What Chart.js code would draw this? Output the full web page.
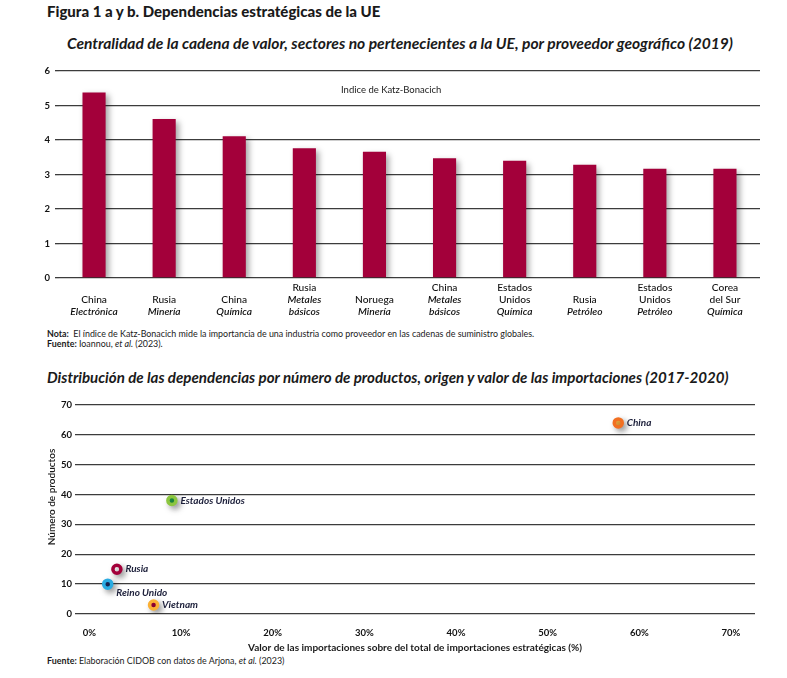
<!DOCTYPE html>
<html lang="es">
<head>
<meta charset="utf-8">
<script src="https://cdn.jsdelivr.net/npm/chart.js@4.4.1/dist/chart.umd.min.js"></script>
<style>
  html, body { margin: 0; padding: 0; background: #fff; }
  body { width: 787px; height: 678px; position: relative; overflow: hidden;
         font-family: Lato, "Open Sans", sans-serif; color: #1a1a1a; }
  .t { position: absolute; white-space: nowrap; line-height: 1; }
  #title { left: 47px; top: 4px; font-size: 15px; font-weight: 900; }
  .sub { font-weight: 700; font-style: italic; }
  #sub1 { left: 67px; top: 36px; font-size: 15.6px; }
  #sub2 { left: 47px; top: 370px; font-size: 15.1px; }
  .note { font-size: 8.9px; left: 47px; }
  #nota { top: 330px; }
  #fuente1 { top: 340px; }
  #fuente2 { top: 657px; }
  #katz { left: 341px; top: 85px; font-size: 9.5px; }
  .box { position: absolute; left: 0; }
  #box1 { top: 60px; }
  #box2 { top: 395px; }
</style>
</head>
<body>
<div class="t" id="title">Figura 1 a y b. Dependencias estratégicas de la UE</div>
<div class="t sub" id="sub1">Centralidad de la cadena de valor, sectores no pertenecientes a la UE, por proveedor geográfico (2019)</div>
<div class="t note" id="nota"><b>Nota:</b>&nbsp; El índice de Katz-Bonacich mide la importancia de una industria como proveedor en las cadenas de suministro globales.</div>
<div class="t note" id="fuente1"><b>Fuente:</b> Ioannou, <i>et al.</i> (2023).</div>
<div class="t sub" id="sub2">Distribución de las dependencias por número de productos, origen y valor de las importaciones (2017-2020)</div>
<div class="t note" id="fuente2"><b>Fuente:</b> Elaboración CIDOB con datos de Arjona, <i>et al.</i> (2023)</div>

<div class="box" id="box1"><canvas id="bars" width="787" height="265"></canvas></div>
<div class="t" id="katz">Indice de Katz-Bonacich</div>
<div class="box" id="box2"><canvas id="scatter" width="787" height="265"></canvas></div>

<script>
// Figura 1a: Katz-Bonacich index by supplier / sector
const countries = [["China"], ["Rusia"], ["China"], ["Rusia"], ["Noruega"], ["China"],
  ["Estados", "Unidos"], ["Rusia"], ["Estados", "Unidos"], ["Corea", "del Sur"]];
const sectors = [["Electrónica"], ["Minería"], ["Química"], ["Metales", "básicos"], ["Minería"],
  ["Metales", "básicos"], ["Química"], ["Petróleo"], ["Petróleo"], ["Química"]];
const katzValues = [5.38, 4.61, 4.11, 3.76, 3.66, 3.47, 3.40, 3.28, 3.17, 3.17];
const katzTicks = [0, 1, 2, 3, 4, 5, 6];

// Figura 1b: dependencies by origin
const origins = ["China", "Estados Unidos", "Rusia", "Reino Unido", "Vietnam"];
const importShare = [57.7, 9.0, 3.0, 2.0, 7.0];   // % of strategic imports
const productCount = [64, 38, 15, 10, 3];
const shareTicks = [0, 10, 20, 30, 40, 50, 60, 70];
const countTicks = [0, 10, 20, 30, 40, 50, 60, 70];

const FONT = 'Lato, "Open Sans", sans-serif';
const CRIMSON = "#a3003a";
const GRID = "#3c3c3c";
Chart.defaults.font.family = FONT;
Chart.defaults.color = "#1a1a1a";

// soft drop shadow under bars and points
const shadow = {
  id: "shadow",
  beforeDatasetsDraw(chart) {
    const ctx = chart.ctx;
    ctx.save();
    ctx.shadowColor = "rgba(0,0,0,0.35)";
    ctx.shadowBlur = 6;
    ctx.shadowOffsetX = 3;
    ctx.shadowOffsetY = 3;
  },
  afterDatasetsDraw(chart) {
    chart.ctx.restore();
  }
};

// two-part category labels: country (regular) over sector (italic), bottom aligned
const catLabels = {
  id: "catLabels",
  afterDraw(chart) {
    const ctx = chart.ctx;
    const x = chart.scales.x;
    const base = chart.chartArea.bottom + 34;
    const lh = 12.3;
    ctx.save();
    ctx.textAlign = "center";
    ctx.textBaseline = "middle";
    ctx.fillStyle = "#111";
    countries.forEach((c, i) => {
      const lines = c.map(s => ({ s, it: false })).concat(sectors[i].map(s => ({ s, it: true })));
      const px = x.getPixelForValue(i);
      lines.forEach((l, j) => {
        ctx.font = (l.it ? "italic 600 " : "500 ") + "10.2px " + FONT;
        ctx.fillText(l.s, px, base - (lines.length - 1 - j) * lh);
      });
    });
    ctx.restore();
  }
};

new Chart(document.getElementById("bars"), {
  type: "bar",
  data: {
    labels: countries.map((c, i) => c.join(" ") + " " + sectors[i].join(" ")),
    datasets: [{
      data: katzValues,
      backgroundColor: CRIMSON,
      borderWidth: 0,
      categoryPercentage: 1,
      barPercentage: 0.33
    }]
  },
  options: {
    responsive: false,
    animation: false,
    layout: { padding: { top: 11, right: 27, left: 0, bottom: 0 } },
    plugins: { legend: { display: false }, tooltip: { enabled: false } },
    scales: {
      x: {
        grid: { display: false },
        border: { display: false },
        ticks: { display: false },
        afterFit(s) { s.height = 47; }
      },
      y: {
        min: 0, max: 6,
        afterBuildTicks(s) { s.ticks = katzTicks.map(v => ({ value: v })); },
        afterFit(s) { s.width = 59; },
        grid: { color: GRID, lineWidth: 1.3, tickLength: 4 },
        border: { display: false },
        ticks: { padding: 5, font: { size: 9.5, weight: "bold" }, color: "#111" }
      }
    }
  },
  plugins: [shadow, catLabels]
});

// point names beside each marker
const pointNames = {
  id: "pointNames",
  afterDatasetsDraw(chart) {
    const ctx = chart.ctx;
    const pts = chart.getDatasetMeta(0).data;
    ctx.save();
    ctx.font = "italic bold 10px " + FONT;
    ctx.fillStyle = "#1c1f3a";
    ctx.textBaseline = "middle";
    ctx.textAlign = "left";
    pts.forEach((p, i) => {
      const below = origins[i] === "Reino Unido";
      ctx.fillText(origins[i], p.x + 8.5, p.y + (below ? 8.5 : 0));
    });
    // y axis title
    ctx.font = "600 10px " + FONT;
    ctx.fillStyle = "#1a1a1a";
    ctx.translate(52, 102);
    ctx.rotate(-Math.PI / 2);
    ctx.textAlign = "center";
    ctx.fillText("Número de productos", 0, 0);
    ctx.restore();
  }
};

new Chart(document.getElementById("scatter"), {
  type: "scatter",
  data: {
    datasets: [{
      data: importShare.map((v, i) => ({ x: v, y: productCount[i] })),
      pointRadius: 4,
      pointBorderWidth: 3.5,
      pointBorderColor: ["#f26f21", "#8cc63f", "#a3003a", "#29abe2", "#fbb034"],
      pointBackgroundColor: ["#fbb040", "#1e9a48", "#ffffff", "#1b2a5e", "#a3003a"]
    }]
  },
  options: {
    responsive: false,
    animation: false,
    layout: { padding: { top: 10, right: 32, left: 0, bottom: 0 } },
    plugins: { legend: { display: false }, tooltip: { enabled: false } },
    scales: {
      x: {
        min: -1.57, max: 72.62,
        afterBuildTicks(s) { s.ticks = shareTicks.map(v => ({ value: v })); },
        afterFit(s) { s.height = 46; },
        grid: { display: false },
        border: { display: false },
        ticks: { padding: 5, font: { size: 9.5, weight: "bold" }, color: "#111",
                 callback: v => v + "%" },
        title: { display: true, text: "Valor de las importaciones sobre del total de importaciones estratégicas (%)",
                 font: { size: 10, weight: "bold" }, color: "#1a1a1a", padding: { top: 2, bottom: 6 } }
      },
      y: {
        min: 0, max: 70,
        afterBuildTicks(s) { s.ticks = countTicks.map(v => ({ value: v })); },
        afterFit(s) { s.width = 75; },
        grid: { color: GRID, lineWidth: 1.3, drawTicks: false },
        border: { display: false },
        ticks: { padding: 3, font: { size: 9.5, weight: "bold" }, color: "#111" }
      }
    }
  },
  plugins: [shadow, pointNames]
});
</script>
</body>
</html>
